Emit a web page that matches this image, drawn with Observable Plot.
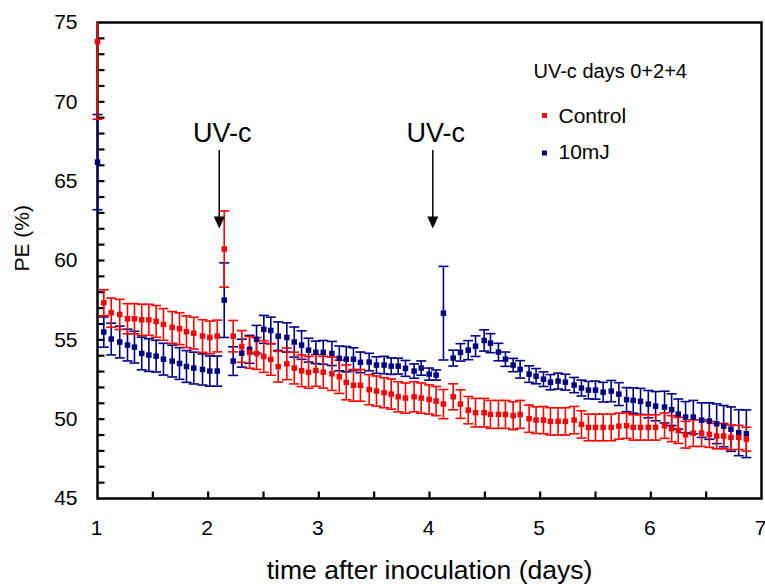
<!DOCTYPE html>
<html><head><meta charset="utf-8">
<script src="https://cdn.jsdelivr.net/npm/d3@7"></script>
<script src="https://cdn.jsdelivr.net/npm/@observablehq/plot@0.6"></script>
<style>body{margin:0;background:#fff}#chart{width:765px;height:584px}</style>
</head><body><div id="chart"></div>
<script>
const days = [1.000,1.057,1.124,1.201,1.271,1.334,1.400,1.464,1.530,1.596,1.675,1.741,1.804,1.870,1.949,2.015,2.082,2.145,
2.226,2.304,2.374,2.437,2.503,2.566,2.633,2.711,2.778,2.844,2.907,2.973,3.040,3.118,3.185,3.248,3.313,3.376,
3.455,3.521,3.590,3.654,3.717,3.783,3.861,3.925,3.997,4.060,4.126,4.214,4.280,4.350,4.416,4.494,4.551,
4.623,4.686,4.756,4.819,4.900,4.963,5.030,5.093,5.162,5.228,5.307,5.373,5.436,5.500,5.569,5.642,5.711,
5.781,5.841,5.907,5.977,6.043,6.124,6.188,6.248,6.314,6.384,6.459,6.529,6.595,6.658,6.724,6.794,6.863];
const controlPE = [73.8,57.34,56.71,56.60,56.33,56.33,56.26,56.26,56.16,55.97,55.78,55.70,55.51,55.42,55.24,55.15,55.24,60.72,
55.23,54.58,54.21,54.14,53.95,53.77,53.31,53.49,53.22,53.05,52.95,53.07,52.96,52.86,52.67,52.32,52.13,52.13,
51.86,51.77,51.67,51.58,51.41,51.33,51.41,51.33,51.24,51.14,50.95,51.41,50.95,50.57,50.41,50.41,50.30,
50.30,50.30,50.22,50.30,50.03,49.94,49.94,49.86,49.86,49.86,49.94,49.67,49.48,49.48,49.48,49.48,49.56,
49.59,49.48,49.48,49.48,49.48,49.59,49.40,49.29,49.02,49.12,49.12,49.04,48.93,48.93,48.85,48.85,48.74];
const controlErr = [4.9,0.82,0.92,0.95,0.95,0.95,0.98,0.98,1.0,1.0,1.0,1.0,1.0,1.0,1.03,1.03,1.0,2.4,
0.99,1.0,1.0,1.0,1.0,1.0,0.97,1.0,1.0,1.0,1.0,1.0,1.0,1.05,1.05,1.1,1.0,1.0,
0.95,0.95,0.95,0.95,0.95,0.95,0.95,0.95,0.92,0.92,0.92,0.82,0.9,0.86,0.9,0.9,0.88,
0.88,0.88,0.88,0.88,0.86,0.84,0.86,0.86,0.86,0.86,0.86,0.86,0.84,0.84,0.84,0.84,0.82,
0.8,0.8,0.8,0.8,0.8,0.8,0.82,0.82,0.84,0.84,0.84,0.82,0.8,0.8,0.78,0.76,0.75];
const uv10PE = [66.2,55.49,55.05,54.86,54.67,54.54,54.14,54.04,53.97,53.78,53.66,53.51,53.32,53.22,53.13,53.03,53.03,57.50,
53.66,54.16,54.40,55.03,55.66,55.59,55.23,55.15,54.86,54.67,54.35,54.21,54.21,54.14,53.83,53.78,53.78,53.58,
53.60,53.41,53.41,53.34,53.34,53.20,53.03,53.22,52.84,52.78,56.68,53.85,54.21,54.35,54.60,54.96,54.79,
54.23,53.78,53.41,53.14,52.84,52.71,52.52,52.33,52.40,52.33,52.15,51.96,51.83,51.83,51.70,51.77,51.58,
51.23,51.18,51.12,50.95,50.82,50.76,50.60,50.32,50.13,50.13,49.94,49.88,49.71,49.56,49.37,49.15,49.08];
const uv10Err = [3.0,0.95,1.0,1.0,1.0,1.0,1.03,1.03,1.0,1.0,1.0,1.0,1.0,1.0,0.98,0.95,0.95,2.35,
0.9,0.88,0.88,0.88,0.88,0.84,0.9,0.92,0.95,0.9,0.75,0.71,0.75,0.76,0.78,0.8,0.72,0.65,
0.55,0.52,0.55,0.52,0.5,0.5,0.45,0.45,0.38,0.32,2.95,0.5,0.55,0.6,0.65,0.67,0.6,
0.55,0.45,0.42,0.55,0.52,0.48,0.46,0.48,0.5,0.5,0.48,0.5,0.55,0.57,0.62,0.67,0.72,
0.76,0.8,0.82,0.86,0.92,1.0,1.0,0.95,0.98,1.05,1.09,1.15,1.25,1.3,1.4,1.45,1.5];
const seriesNames = ["Control", "10mJ"];
const seriesColors = ["#ff0000", "#000080"];
const legendTitle = "UV-c days 0+2+4";
const uvDays = [2.10, 4.03];
const uvLabel = "UV-c";
const xTicksMajor = [1, 2, 3, 4, 5, 6, 7];
const xTicksMinor = [1.5, 2, 2.5, 3, 3.5, 4, 4.5, 5, 5.5, 6, 6.5];
const yTicksMajor = [45, 50, 55, 60, 65, 70, 75];
const yTicksMinor = [46,47,48,49,50,51,52,53,54,55,56,57,58,59,60,61,62,63,64,65,66,67,68,69,70,71,72,73,74];
const xTitle = "time after inoculation (days)";
const yTitle = "PE (%)";

const xDomain = [1, 7], yDomain = [45, 75];
const W = 765, H = 584, ML = 97, MR = 4, MT = 22, MB = 86;

const control = days.map((d, i) => ({day: d, pe: controlPE[i], err: controlErr[i]}));
const uv10 = days.map((d, i) => ({day: d, pe: uv10PE[i], err: uv10Err[i]}));

const cap = {draw(ctx) { ctx.moveTo(-5, 0); ctx.lineTo(5, 0); }};
const tickRight = {draw(ctx) { ctx.moveTo(0, 0); ctx.lineTo(7, 0); }};
const tickUp = {draw(ctx) { ctx.moveTo(0, 0); ctx.lineTo(0, -7); }};
const head = {draw(ctx) { ctx.moveTo(-5.5, -12); ctx.lineTo(5.5, -12); ctx.lineTo(0, 0); ctx.closePath(); }};
const inDomain = v => v >= yDomain[0] && v <= yDomain[1];

function errMarks(data, color) {
  return [
    Plot.ruleX(data, {x: "day", y1: d => Math.max(d.pe - d.err, yDomain[0]), y2: d => Math.min(d.pe + d.err, yDomain[1]), stroke: color, strokeWidth: 1.6}),
    Plot.dot(data.filter(d => inDomain(d.pe + d.err)), {x: "day", y: d => d.pe + d.err, symbol: cap, fill: "none", stroke: color, strokeWidth: 1.6}),
    Plot.dot(data.filter(d => inDomain(d.pe - d.err)), {x: "day", y: d => d.pe - d.err, symbol: cap, fill: "none", stroke: color, strokeWidth: 1.6})
  ];
}

const chart = Plot.plot({
  width: W, height: H,
  marginLeft: ML, marginRight: MR, marginTop: MT, marginBottom: MB,
  style: {fontFamily: "Liberation Sans, Arial, sans-serif", fontSize: "21px", color: "black", background: "white"},
  x: {domain: xDomain, axis: null, label: null},
  y: {domain: yDomain, axis: null, label: null},
  marks: [
    Plot.frame({stroke: "black", strokeWidth: 2.5}),
    Plot.dot(yTicksMinor, {x: xDomain[0], y: d => d, symbol: tickRight, fill: "none", stroke: "black", strokeWidth: 2.2}),
    Plot.dot(xTicksMinor, {x: d => d, y: yDomain[0], symbol: tickUp, fill: "none", stroke: "black", strokeWidth: 2.2}),
    Plot.text(yTicksMajor, {y: d => d, frameAnchor: "left", dx: -20, textAnchor: "end", lineAnchor: "middle", text: d => String(d), fontSize: 21}),
    Plot.text(xTicksMajor, {x: d => d, frameAnchor: "bottom", dy: 22, dx: -1, lineAnchor: "top", text: d => String(d), fontSize: 21}),
    ...errMarks(uv10, seriesColors[1]),
    ...errMarks(control, seriesColors[0]),
    Plot.dot(uv10, {x: "day", y: "pe", symbol: "square", r: 3.1, fill: seriesColors[1]}),
    Plot.dot(control, {x: "day", y: "pe", symbol: "square", r: 3.1, fill: seriesColors[0]}),
    Plot.text([xTitle], {frameAnchor: "bottom", dy: 80, lineAnchor: "bottom", fontSize: 26.5}),
    Plot.text([yTitle], {frameAnchor: "left", dx: -75, dy: 11, rotate: -90, lineAnchor: "middle", fontSize: 21}),
    Plot.ruleX(uvDays, {x: d => d, y1: 66.93, y2: 62.6, stroke: "black", strokeWidth: 1.5}),
    Plot.dot(uvDays, {x: d => d, y: 62.02, symbol: head, fill: "black", stroke: "none"}),
    Plot.text(uvDays, {x: d => d, y: 67.5, text: () => uvLabel, lineAnchor: "bottom", fontSize: 27, dx: 3}),
    Plot.text([legendTitle], {frameAnchor: "top-left", dx: 436, dy: 55, textAnchor: "start", lineAnchor: "bottom", fontSize: 20}),
    Plot.dot([seriesNames[0]], {frameAnchor: "top-left", dx: 447, dy: 93, symbol: "square", r: 2.8, fill: seriesColors[0]}),
    Plot.dot([seriesNames[1]], {frameAnchor: "top-left", dx: 447, dy: 130.5, symbol: "square", r: 2.8, fill: seriesColors[1]}),
    Plot.text([seriesNames[0]], {frameAnchor: "top-left", dx: 461, dy: 100, textAnchor: "start", lineAnchor: "bottom", fontSize: 21}),
    Plot.text([seriesNames[1]], {frameAnchor: "top-left", dx: 461, dy: 136, textAnchor: "start", lineAnchor: "bottom", fontSize: 21})
  ]
});
document.getElementById("chart").appendChild(chart);
</script>
</body></html>
